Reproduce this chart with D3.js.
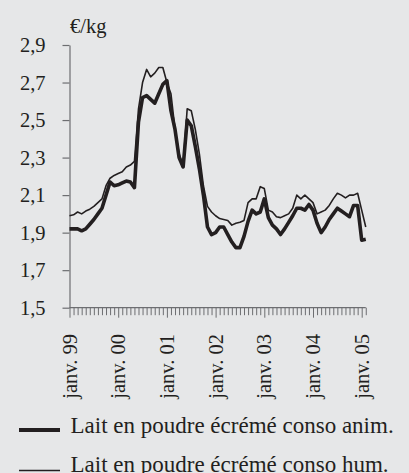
<!DOCTYPE html>
<html>
<head>
<meta charset="utf-8">
<script src="https://cdn.jsdelivr.net/npm/d3@7"></script>
<style>
  html, body { margin: 0; padding: 0; background: #e6e7e8; }
  svg { display: block; font-family: "Liberation Serif", "Times New Roman", serif; }
</style>
</head>
<body>
<div id="chart"></div>
<script>
// monthly prices, janv. 99 -> févr. 05
const yearLabels = ["janv. 99", "janv. 00", "janv. 01", "janv. 02", "janv. 03", "janv. 04", "janv. 05"];
const yTicks = [1.5, 1.7, 1.9, 2.1, 2.3, 2.5, 2.7, 2.9];

const animValues = [
    1.92, 1.92, 1.92, 1.91, 1.92, 1.945, 1.97, 2.00, 2.03, 2.10, 2.17, 2.15,
    2.155, 2.165, 2.175, 2.17, 2.14, 2.49, 2.62, 2.63, 2.61, 2.59, 2.64, 2.69,
    2.71, 2.55, 2.45, 2.30, 2.25, 2.50, 2.47, 2.36, 2.24, 2.10, 1.93, 1.89,
    1.90, 1.93, 1.93, 1.89, 1.85, 1.82, 1.82, 1.88, 1.96, 2.02, 2.00, 2.01,
    2.08, 1.98, 1.94, 1.92, 1.89, 1.92, 1.955, 1.99, 2.03, 2.03, 2.02, 2.05,
    2.02, 1.95, 1.90, 1.93, 1.97, 2.00, 2.03, 2.015, 2.00, 1.985, 2.045, 2.045,
    1.86, 1.865
];
const humValues = [
    1.99, 1.995, 2.01, 2.00, 2.015, 2.025, 2.04, 2.06, 2.08, 2.15, 2.19, 2.205,
    2.215, 2.225, 2.25, 2.26, 2.28, 2.56, 2.70, 2.77, 2.73, 2.75, 2.78, 2.78,
    2.70, 2.64, 2.45, 2.32, 2.26, 2.56, 2.55, 2.45, 2.32, 2.15, 2.04, 2.01,
    1.99, 1.975, 1.97, 1.965, 1.94, 1.95, 1.955, 1.965, 2.06, 2.08, 2.08, 2.145,
    2.135, 2.02, 2.01, 1.985, 1.98, 1.99, 2.00, 2.03, 2.10, 2.08, 2.10, 2.08,
    2.06, 2.00, 2.01, 2.02, 2.045, 2.08, 2.11, 2.10, 2.085, 2.10, 2.10, 2.11,
    2.02, 1.93
];
const seriesNames = ["Lait en poudre écrémé conso anim.", "Lait en poudre écrémé conso hum."];

const W = 409, H = 473;
const ink = "#231f20", axisCol = "#6d6e71";

const svg = d3.select("#chart").append("svg")
    .attr("width", W)
    .attr("height", H);

let x = d3.scaleLinear()
    .domain([0, 72])
    .range([69.5, 361.7]);

let y = d3.scaleLinear()
    .domain([1.5, 2.9])
    .range([307.7, 45]);

// y axis
let yAxis = svg.append("g")
    .attr("transform", "translate(69.5,0)")
    .call(d3.axisLeft(y)
        .tickValues(yTicks)
        .tickSize(7)
        .tickSizeOuter(0)
        .tickPadding(17)
        .tickFormat(d => d.toFixed(1).replace(".", ",")));
yAxis.select(".domain").attr("stroke", axisCol).attr("stroke-width", 1.2);
yAxis.selectAll(".tick line").attr("stroke", axisCol).attr("stroke-width", 1.2);
yAxis.selectAll(".tick text")
    .attr("fill", ink)
    .attr("font-family", "Liberation Serif, serif")
    .attr("font-size", 20.5)
    .attr("dy", "0.33em");

// x axis, one tick per month
let months = d3.range(0, 74);
let xAxis = svg.append("g")
    .attr("transform", `translate(0, ${y(1.5)})`)
    .call(d3.axisBottom(x)
        .tickValues(months)
        .tickSize(7.5)
        .tickSizeOuter(0)
        .tickFormat(""));
xAxis.select(".domain").attr("stroke", axisCol).attr("stroke-width", 1.2)
    .attr("d", `M${x(0)},0H${x(73)}`);
xAxis.selectAll(".tick line")
    .attr("stroke", axisCol)
    .attr("stroke-width", 1)
    .attr("y2", d => d % 12 === 0 ? 10 : 7.5);

// year labels, rotated
svg.append("g")
    .selectAll("text")
    .data(yearLabels)
    .enter()
    .append("text")
    .attr("transform", (d, i) => `translate(${x(i * 12) + 7}, 334) rotate(-90)`)
    .attr("text-anchor", "end")
    .attr("font-size", 20.5)
    .attr("fill", ink)
    .text(d => d);

// unit
svg.append("text")
    .attr("x", 70)
    .attr("y", 33)
    .attr("font-size", 20.5)
    .attr("fill", ink)
    .text("€/kg");

// lines
let line = d3.line()
    .x((d, i) => x(i))
    .y(d => y(d));

svg.append("path")
    .attr("d", line(humValues))
    .attr("fill", "none")
    .attr("stroke", ink)
    .attr("stroke-width", 1.6)
    .attr("stroke-linejoin", "round");

svg.append("path")
    .attr("d", line(animValues))
    .attr("fill", "none")
    .attr("stroke", ink)
    .attr("stroke-width", 3.6)
    .attr("stroke-linejoin", "round");

// legend
let legend = svg.append("g")
    .selectAll("g")
    .data(seriesNames)
    .enter()
    .append("g")
    .attr("transform", (d, i) => `translate(0, ${430 + i * 40.5})`);
legend.append("line")
    .attr("x1", 19)
    .attr("x2", 60)
    .attr("stroke", ink)
    .attr("stroke-width", (d, i) => i === 0 ? 4 : 1.6);
legend.append("text")
    .attr("x", 70.5)
    .attr("y", (d, i) => i === 0 ? 3.3 : 1.8)
    .attr("font-size", 23)
    .attr("fill", ink)
    .text(d => d);
</script>
</body>
</html>
